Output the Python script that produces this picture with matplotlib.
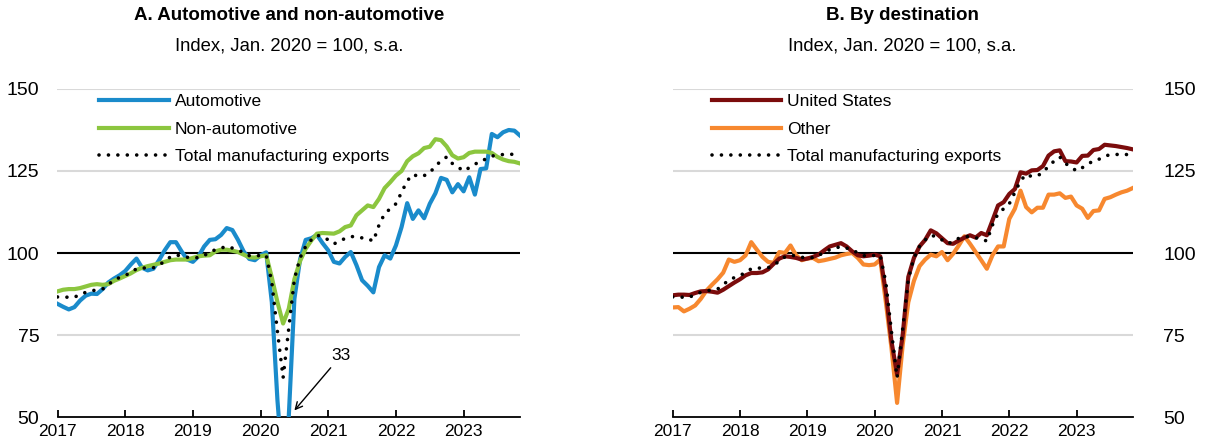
import numpy as np
import matplotlib
matplotlib.use('Agg')
import matplotlib.pyplot as plt

plt.rcParams['font.family'] = ['Liberation Sans', 'DejaVu Sans']

# monthly data, Jan 2017 - Nov 2023
automotive = [84.5, 83.6, 82.8, 83.5, 85.5, 87.0, 87.6, 87.5, 89.0, 91.0, 92.2, 93.2,
              94.5, 96.5, 98.3, 95.5, 94.7, 95.2, 97.8, 100.8, 103.3, 103.3, 100.5, 98.0,
              97.3, 99.0, 102.0, 104.0, 104.2, 105.5, 107.6, 107.0, 104.0, 100.5, 98.2, 97.8,
              99.3, 100.2, 85.0, 55.0, 33.0, 50.0, 86.0, 98.0, 104.0, 104.5, 105.5, 103.0,
              100.8, 97.3, 96.8, 98.8, 100.3, 96.3, 91.7, 90.0, 88.0, 95.7, 99.3, 98.3,
              102.3, 107.9, 115.2, 110.4, 113.0, 110.6, 115.0, 118.2, 122.9, 122.3, 118.5, 121.0,
              118.8, 123.1, 117.8, 125.6, 125.8, 136.3, 135.3, 136.8, 137.5, 137.3, 135.8]
non_automotive = [88.3, 88.8, 89.0, 89.0, 89.3, 89.8, 90.3, 90.5, 90.3, 90.5, 91.5, 92.2,
                  93.0, 93.8, 94.8, 95.5, 96.0, 96.4, 96.8, 97.3, 97.8, 98.0, 98.0, 98.0,
                  98.5, 99.0, 99.2, 99.3, 100.5, 101.0, 101.0, 100.7, 100.3, 99.5, 98.7, 98.6,
                  99.0, 99.3, 92.5, 85.0, 78.5, 83.0, 92.0, 97.5, 101.3, 103.8, 105.9, 106.1,
                  106.0, 105.9, 106.6, 107.9, 108.4, 111.5, 113.0, 114.5, 114.0, 116.5, 119.8, 121.6,
                  123.6, 125.0, 128.0, 129.5, 130.4, 132.0, 132.4, 134.7, 134.4, 132.5, 129.8, 128.8,
                  129.2, 130.5, 130.9, 130.9, 130.9, 130.5, 129.3, 128.5, 128.0, 127.8, 127.3]
total = [86.6, 86.6, 86.5, 86.5, 87.4, 88.0, 88.5, 88.7, 89.0, 90.3, 91.8, 92.5,
         93.2, 94.0, 95.2, 95.5, 95.3, 95.5, 96.3, 97.5, 98.8, 99.4, 99.1, 98.7,
         98.5, 98.6, 99.2, 100.3, 101.0, 101.5, 102.0, 101.5, 101.0, 100.0, 99.2, 99.0,
         99.3, 99.3, 91.0, 76.0, 62.0, 77.0, 92.0, 98.5, 102.0, 104.0, 105.4, 105.0,
         104.0, 102.8, 103.5, 104.5, 105.0, 105.0, 104.6, 104.4, 103.6, 108.5, 112.0, 113.5,
         115.0, 118.5, 122.0, 124.0, 123.3, 123.6, 124.4, 126.6, 128.0, 129.3, 127.3, 126.2,
         125.0, 126.0, 127.0, 128.2, 128.6, 129.5, 130.0, 130.0, 130.2, 130.0, 129.7]
united_states = [87.1, 87.3, 87.3, 87.2, 87.8, 88.3, 88.4, 88.2, 87.9, 88.8, 89.9, 91.0,
                 92.0, 93.2, 93.9, 93.9, 94.1, 95.0, 96.7, 98.3, 99.0, 98.8, 98.5, 98.0,
                 98.3, 98.8, 99.5, 100.8, 102.0, 102.5, 103.0, 102.0, 100.5, 99.3, 99.0, 99.2,
                 99.5, 99.0, 88.0, 73.0, 63.0, 75.0, 92.7, 98.5, 102.0, 104.0, 106.9, 106.0,
                 104.5, 103.0, 102.8, 103.8, 104.7, 105.4, 104.7, 106.1, 105.4, 109.9, 114.5, 115.5,
                 118.0, 119.5, 124.6, 124.2, 125.2, 125.3, 126.5, 129.7, 131.0, 131.3, 128.0, 127.9,
                 127.6, 129.6, 129.7, 131.4, 131.7, 133.0, 132.8, 132.6, 132.3, 132.0, 131.6]
other = [83.4, 83.5, 82.2, 83.0, 84.0, 86.0, 88.5, 90.3, 92.0, 94.0, 98.0, 97.3,
         97.8, 99.3, 103.3, 101.0, 98.8, 97.3, 97.0, 100.3, 100.0, 102.3, 99.3, 97.8,
         98.3, 98.5, 97.5, 97.8, 98.2, 98.6, 99.3, 99.7, 100.0, 98.5, 96.5, 96.3,
         96.5, 98.0, 85.0, 71.0, 54.3, 72.0, 85.0, 91.5, 96.0, 98.0, 99.5, 99.0,
         100.3, 97.8, 99.8, 102.3, 105.1, 102.8, 100.3, 97.8, 95.2, 99.3, 102.0, 102.0,
         110.4, 113.5, 119.0, 114.0, 112.4, 113.8, 113.8, 117.8, 117.8, 118.2, 116.8, 117.2,
         114.5, 113.5, 110.7, 112.8, 113.0, 116.5, 117.0, 117.8, 118.5, 119.0, 119.8]

years = [2017, 2018, 2019, 2020, 2021, 2022, 2023]
dates = 2017 + np.arange(len(total)) / 12

blue = '#1a8bcb'
green = '#8cc63f'
darkred = '#7b0c0c'
orange = '#f7882f'
dots = dict(color='black', lw=2.6, linestyle=(0, (0.01, 2.6)), dash_capstyle='round')

fig = plt.figure(figsize=(12.2, 4.48), dpi=100)
ax1 = fig.add_axes([57.5/1220, 31/448, 462.5/1220, 328/448])
ax2 = fig.add_axes([672.7/1220, 31/448, 460/1220, 328/448])

for ax in (ax1, ax2):
    ax.set_xlim(2017, dates[-1])
    ax.set_ylim(50, 150)
    ax.set_yticks([50, 75, 100, 125, 150])
    for v in (75, 125, 150):
        ax.axhline(v, color='#d9d9d9', lw=1.5, zorder=0)
    ax.axhline(100, color='black', lw=1.5, zorder=1)
    for s in ('top', 'left', 'right'):
        ax.spines[s].set_visible(False)
    ax.spines['bottom'].set_linewidth(1.3)
    ax.set_xticks(years)
    ax.set_xticklabels([str(y) for y in years])
    ax.tick_params(axis='x', direction='in', length=5, width=1.3, labelsize=12.5, pad=5)
    ax.tick_params(axis='y', length=0, labelsize=14)

ax1.tick_params(axis='y', pad=13)
ax2.yaxis.tick_right()
ax2.tick_params(axis='y', pad=22)
for t in ax2.get_yticklabels():
    t.set_ha('left')

ax1.plot(dates, automotive, color=blue, lw=3, label='Automotive', zorder=3)
ax1.plot(dates, non_automotive, color=green, lw=3, label='Non-automotive', zorder=3)
ax1.plot(dates, total, label='Total manufacturing exports', zorder=4, **dots)
ax1.annotate('33', xy=(2020.5, 52), xytext=(2021.05, 66.5), ha='left', va='bottom',
             fontsize=12.5, arrowprops=dict(arrowstyle='->', color='black', lw=1, shrinkA=2, shrinkB=0))

ax2.plot(dates, other, color=orange, lw=3, label='Other', zorder=3)
ax2.plot(dates, united_states, color=darkred, lw=3, label='United States', zorder=3)
ax2.plot(dates, total, label='Total manufacturing exports', zorder=4, **dots)

leg_kw = dict(loc='upper left', frameon=False, fontsize=12.5, handlelength=4.0, handletextpad=0.35,
              labelspacing=0.72, borderaxespad=0, borderpad=0)
h1, l1 = ax1.get_legend_handles_labels()
ax1.legend(h1, l1, bbox_to_anchor=(0.09, 0.985), **leg_kw)
h2, l2 = ax2.get_legend_handles_labels()
ax2.legend([h2[1], h2[0], h2[2]], [l2[1], l2[0], l2[2]], bbox_to_anchor=(0.085, 0.985), **leg_kw)

fig.text(288.8/1220, 1 - 15/448, 'A. Automotive and non-automotive', ha='center', va='center',
         fontsize=13.5, fontweight='bold')
fig.text(288.8/1220, 1 - 46/448, 'Index, Jan. 2020 = 100, s.a.', ha='center', va='center', fontsize=13.3)
fig.text(902/1220, 1 - 15/448, 'B. By destination', ha='center', va='center',
         fontsize=13.5, fontweight='bold')
fig.text(902/1220, 1 - 46/448, 'Index, Jan. 2020 = 100, s.a.', ha='center', va='center', fontsize=13.3)

fig.savefig('out.png', dpi=100)
